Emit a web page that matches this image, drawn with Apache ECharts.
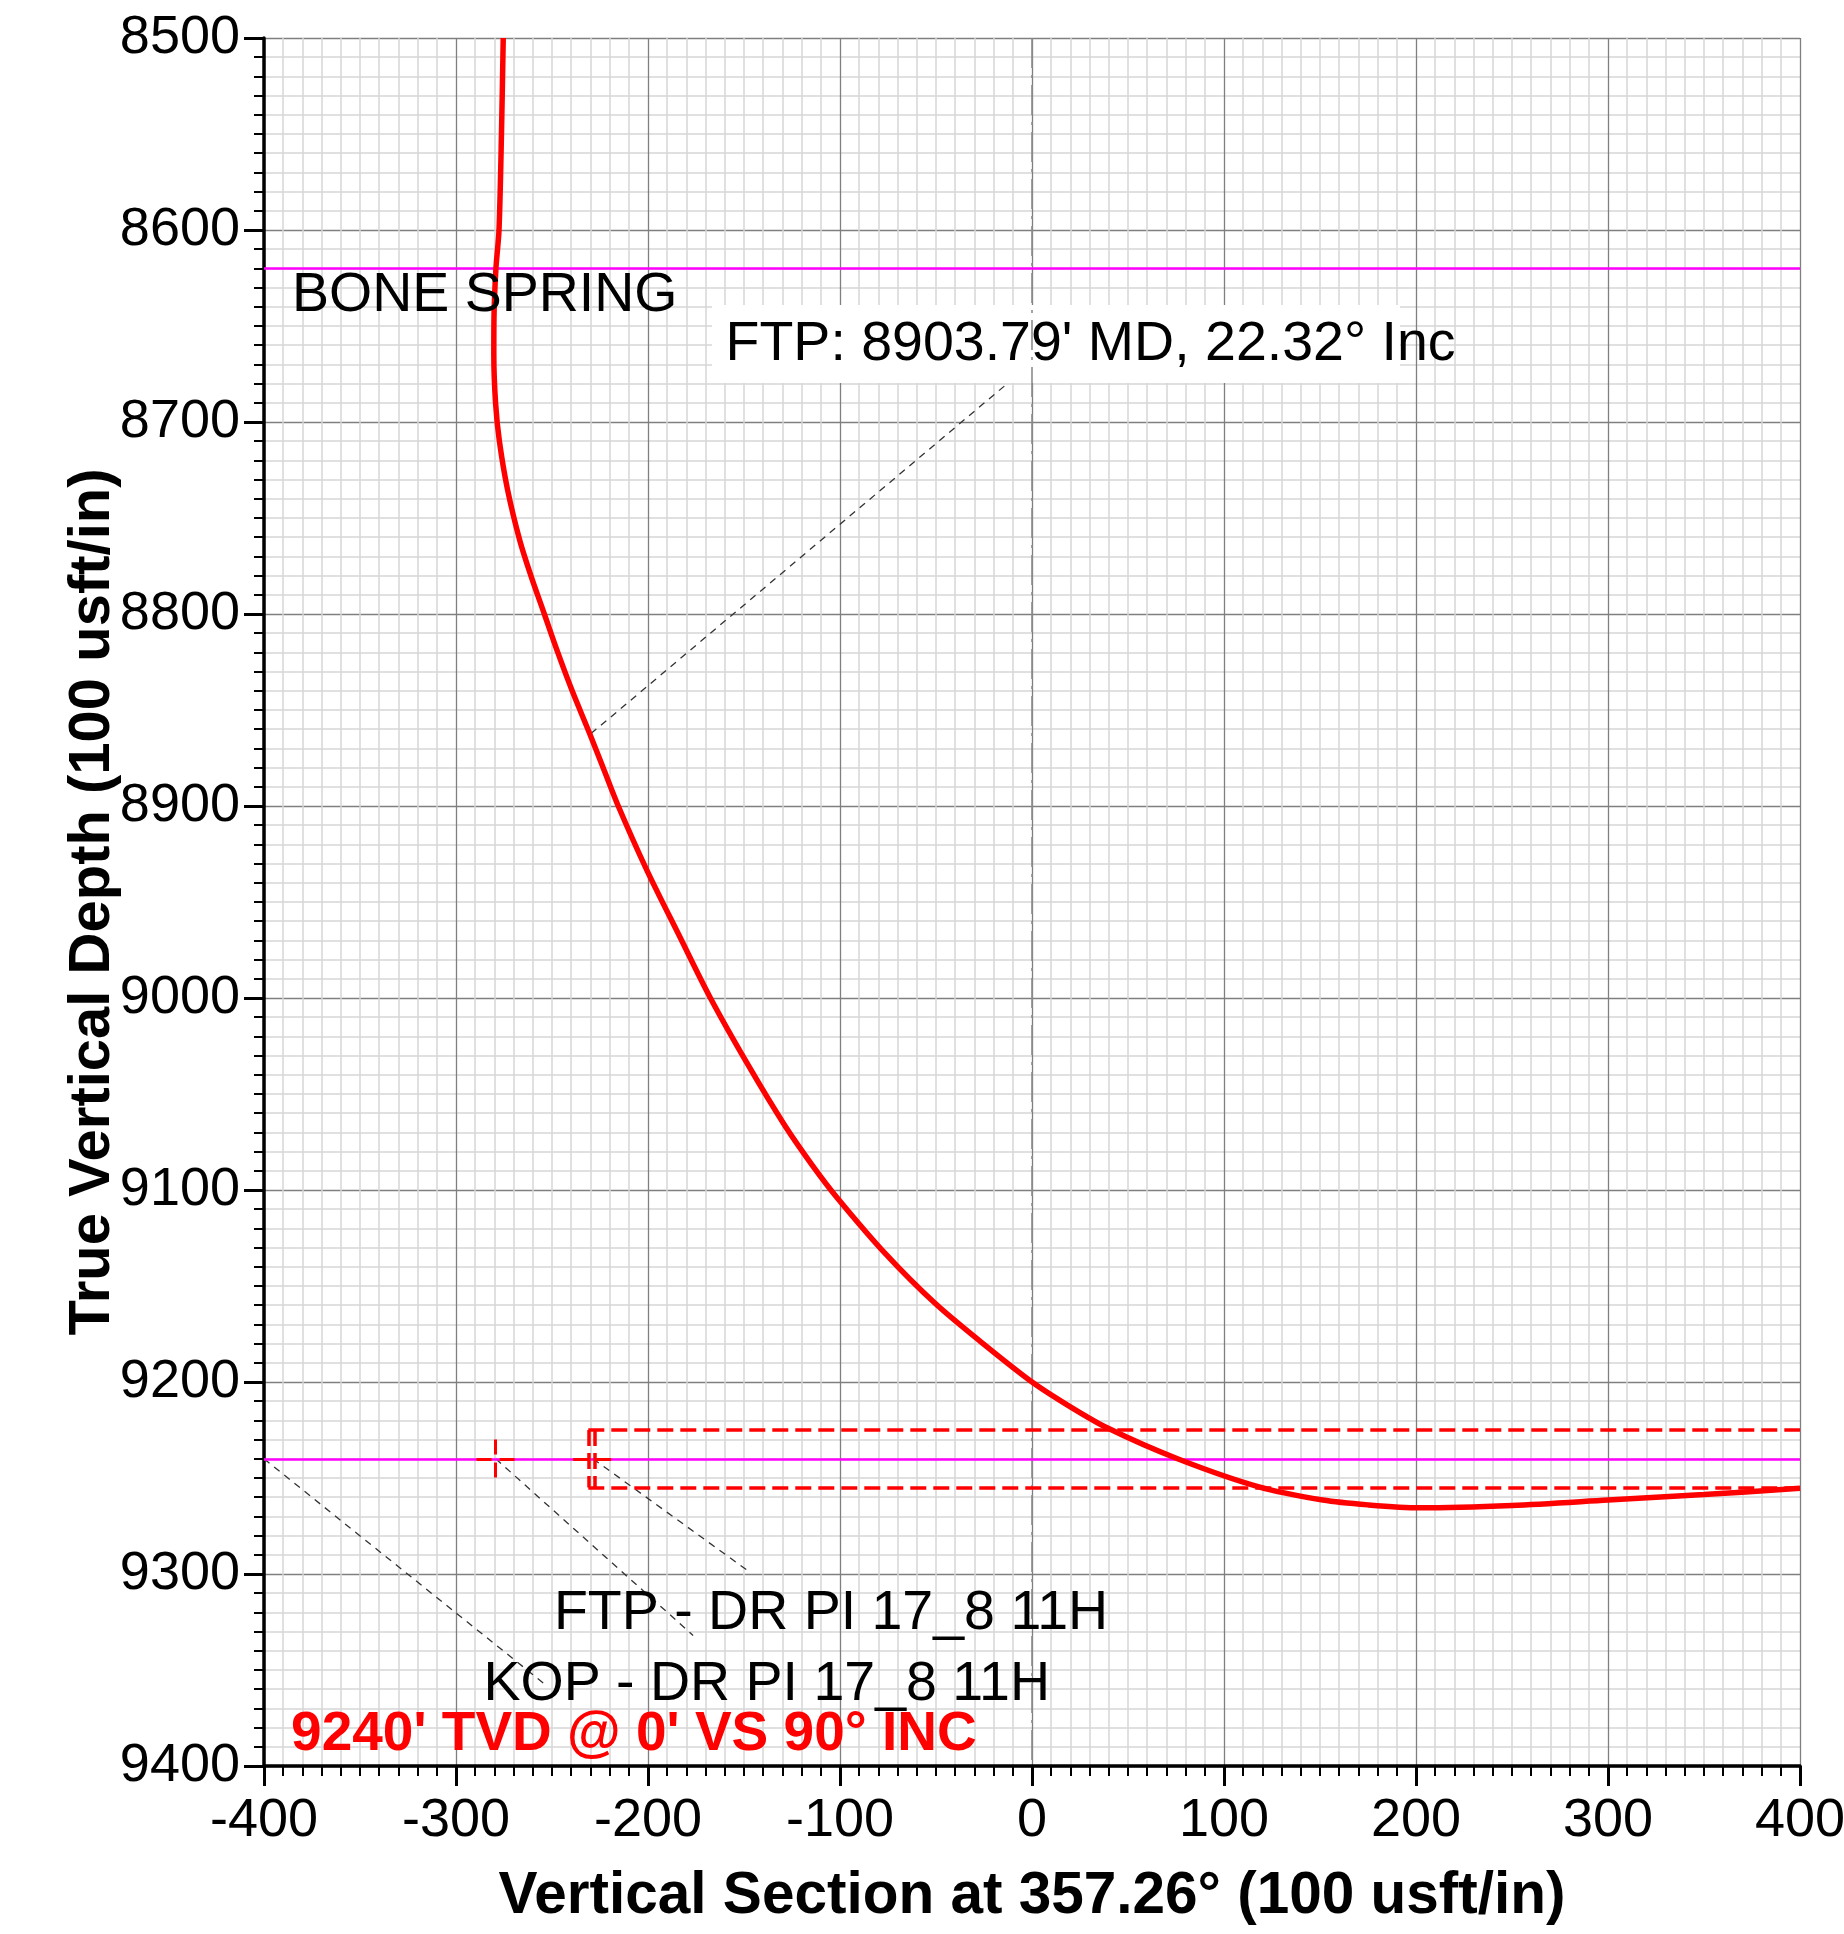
<!DOCTYPE html>
<html>
<head>
<meta charset="utf-8">
<script src="https://cdn.jsdelivr.net/npm/echarts@6/dist/echarts.min.js"></script>
<style>
html,body{margin:0;padding:0;background:#ffffff;}
#chart{width:1844px;height:1934px;}
</style>
</head>
<body>
<div id="chart"></div>
<script>
// ---------- data ----------
const xTickValues = [-400, -300, -200, -100, 0, 100, 200, 300, 400];
const yTickValues = [8500, 8600, 8700, 8800, 8900, 9000, 9100, 9200, 9300, 9400];

// well path: vertical section (usft) vs true vertical depth (usft)
const wellVS = [-275.4, -276.3, -277.6, -279.2, -280.2, -280.3, -279.4, -277.4, -273.2, -266.7,
  -261, -254, -247, -239.5, -230.5, -223, -215.5, -200.8, -183.5, -167.5,
  -147.8, -129, -114.5, -101.5, -76.5, -50.5, -25.5, 0, 18.5, 39.4,
  75.8, 117.7, 151.5, 175, 201.9, 250, 300, 350, 400];
const wellTVD = [8500, 8549, 8600, 8620, 8645, 8665, 8690, 8710, 8735, 8762,
  8780, 8800, 8820, 8840, 8862, 8881, 8900, 8933, 8968, 9000,
  9035, 9066, 9087, 9104, 9133, 9159, 9180, 9200, 9212, 9224,
  9240, 9254.5, 9261.5, 9264, 9265.5, 9264.3, 9261.5, 9258.6, 9255.4];

const formationNames = ['BONE SPRING'];
const formationTVD = [8620];
const targetTVD = 9240;
const targetWindowTVD = [9225, 9255];
const targetBoxLeftVS = [-231.1, -227.6];
const targetBoxRightVS = 400;
const kopPoint = [-279.3, 9240];
const ftpPoint = [-229, 9240];
const crossHalf = 10;

// leader lines
const leaderStarts = [[-400, 9240], [-279.3, 9240], [-228.6, 9240], [-229.7, 8862.3]];
const leaderEnds = [[-253, 9358], [-176.5, 9332], [-148.4, 9298], [-12.5, 8679.7]];

// FTP label white backing box (data coords)
const ftpBoxCorners = [[-166.7, 8639], [191.7, 8679.7]];

const annotationTexts = ['BONE SPRING', "FTP: 8903.79' MD, 22.32° Inc", 'FTP - DR PI 17_8 11H', 'KOP - DR PI 17_8 11H', "9240' TVD @ 0' VS 90° INC"];
const annotationVS = [-385.4, -159.6, -249, -285.7, -385.9];
const annotationTVD = [8634, 8660, 9320.7, 9357.5, 9384];

// ---------- chart ----------
const FONT = "'Liberation Sans', Arial, Helvetica, sans-serif";
const chart = echarts.init(document.getElementById('chart'), null, {renderer: 'canvas'});

const wellData = wellVS.map((v, i) => [v, wellTVD[i]]);

const redDash = {color: '#ff0000', width: 3.5, type: [16, 7]};
const boxLines = [];
targetWindowTVD.forEach(t => boxLines.push({coords: [[targetBoxLeftVS[0], t], [targetBoxRightVS, t]], lineStyle: redDash}));
targetBoxLeftVS.forEach(v => boxLines.push({coords: [[v, targetWindowTVD[0]], [v, targetWindowTVD[1]]], lineStyle: redDash}));
const crossStyle = {color: '#ff0000', width: 3, type: [15, 8]};
boxLines.push({coords: [[kopPoint[0], kopPoint[1] - crossHalf], [kopPoint[0], kopPoint[1] + crossHalf]], lineStyle: crossStyle});
boxLines.push({coords: [[kopPoint[0] - crossHalf, kopPoint[1]], [kopPoint[0] + crossHalf, kopPoint[1]]], lineStyle: crossStyle});
boxLines.push({coords: [[ftpPoint[0] - crossHalf, ftpPoint[1]], [ftpPoint[0] + crossHalf, ftpPoint[1]]], lineStyle: crossStyle});

const leaderLines = leaderStarts.map((s, i) => ({coords: [s, leaderEnds[i]]}));

const annotationData = annotationTexts.map((t, i) => {
  const item = {name: t, value: [annotationVS[i], annotationTVD[i]]};
  if (i === annotationTexts.length - 1) {
    item.label = {color: '#ff0000', fontWeight: 'bold', fontSize: 55};
  }
  return item;
});

const axisCommon = {
  type: 'value',
  axisLine: {show: true, onZero: false, lineStyle: {color: '#000', width: 3.5}},
  axisTick: {show: true, inside: false, length: 20, lineStyle: {color: '#000', width: 3}},
  minorTick: {show: true, splitNumber: 10, length: 10, lineStyle: {color: '#000', width: 2}},
  splitLine: {show: true, lineStyle: {color: '#7f7f7f', width: 1.3}},
  minorSplitLine: {show: true, lineStyle: {color: '#d6d6d6', width: 1.5}},
  axisLabel: {color: '#000', fontSize: 54, fontFamily: FONT, formatter: v => String(v)},
  nameTextStyle: {color: '#000', fontSize: 58, fontWeight: 'bold', fontFamily: FONT},
  nameLocation: 'middle',
  nameMoveOverlap: false
};

const option = {
  backgroundColor: '#ffffff',
  animation: false,
  textStyle: {fontFamily: FONT},
  grid: {left: 264, right: 44, top: 38, bottom: 168, containLabel: false, outerBoundsMode: 'none'},
  xAxis: Object.assign({}, axisCommon, {
    min: xTickValues[0], max: xTickValues[xTickValues.length - 1],
    interval: xTickValues[1] - xTickValues[0],
    position: 'bottom',
    name: 'Vertical Section at 357.26° (100 usft/in)',
    nameGap: 101,
    nameTextStyle: Object.assign({}, axisCommon.nameTextStyle, {fontSize: 58.5}),
    axisLabel: Object.assign({}, axisCommon.axisLabel, {margin: 28})
  }),
  yAxis: Object.assign({}, axisCommon, {
    min: yTickValues[0], max: yTickValues[yTickValues.length - 1],
    interval: yTickValues[1] - yTickValues[0],
    inverse: true,
    position: 'left',
    name: 'True Vertical Depth (100 usft/in)',
    nameRotate: 90,
    nameGap: 142,
    axisLabel: Object.assign({}, axisCommon.axisLabel, {margin: 24})
  }),
  series: [
    {
      type: 'scatter', z: 1, symbolSize: 0, data: [], silent: true,
      markLine: {
        silent: true, symbol: ['none', 'none'], label: {show: false},
        lineStyle: {color: '#8c8c8c', width: 1.6, type: [30, 7, 3, 7]},
        data: [{xAxis: 0}]
      }
    },
    {
      type: 'scatter', z: 2, symbolSize: 0, data: [], silent: true,
      markArea: {
        silent: true, label: {show: false},
        itemStyle: {color: '#ffffff', opacity: 1},
        data: [[{coord: ftpBoxCorners[0]}, {coord: ftpBoxCorners[1]}]]
      }
    },
    {
      type: 'scatter', z: 3, symbolSize: 0, data: [], silent: true,
      markLine: {
        silent: true, symbol: ['none', 'none'], label: {show: false},
        lineStyle: {color: '#ff00ff', width: 2.5, type: 'solid'},
        data: formationTVD.map(t => ({yAxis: t})).concat([{yAxis: targetTVD}])
      }
    },
    {
      type: 'lines', coordinateSystem: 'cartesian2d', z: 4, silent: true,
      lineStyle: {color: '#333', width: 1.3, type: [7, 6], opacity: 1},
      data: leaderLines
    },
    {
      type: 'lines', coordinateSystem: 'cartesian2d', z: 5, silent: true,
      lineStyle: {opacity: 1},
      data: boxLines
    },
    {
      name: 'DR PI 17_8 11H',
      type: 'line', z: 6, data: wellData,
      showSymbol: false, symbol: 'none', smooth: 0.3,
      lineStyle: {color: '#ff0000', width: 5.5},
      silent: true
    },
    {
      type: 'scatter', z: 10, symbolSize: 0, silent: true,
      itemStyle: {opacity: 1},
      data: annotationData,
      label: {show: true, position: 'right', distance: 0, formatter: p => p.name,
        color: '#000', opacity: 1, fontSize: 55.5, fontFamily: FONT}
    }
  ]
};
chart.setOption(option);
</script>
</body>
</html>
